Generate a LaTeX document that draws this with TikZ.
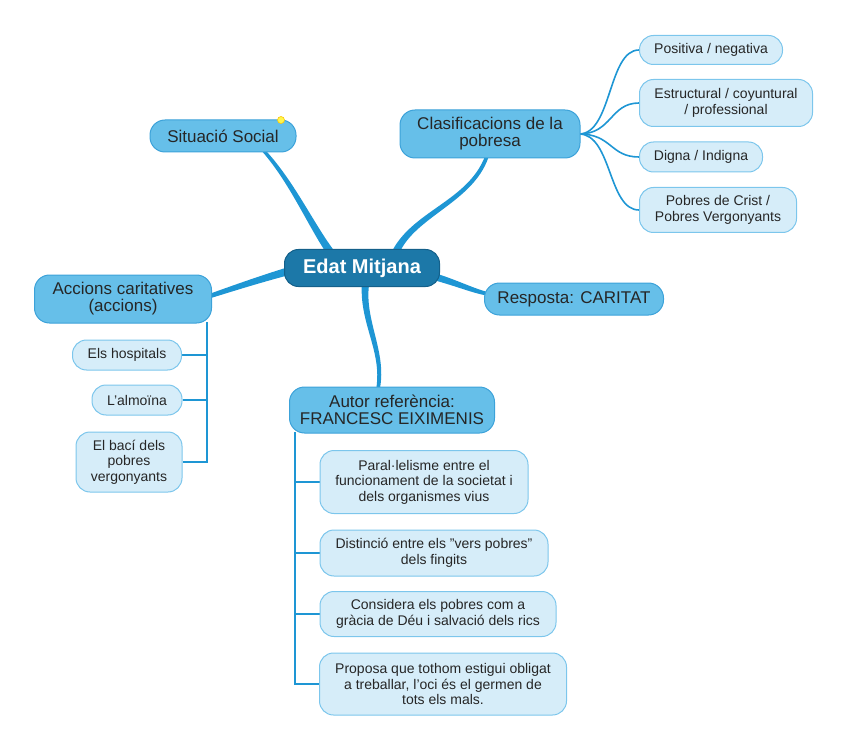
\documentclass[tikz,border=0pt]{standalone}
\usepackage{fontspec}
\setmainfont{Liberation Sans}
\usetikzlibrary{calc}
\pgfdeclarelayer{background}
\pgfsetlayers{background,main}
\definecolor{branch}{HTML}{1E96D4}
\definecolor{centerfill}{HTML}{1C78A8}
\definecolor{centerdraw}{HTML}{14608A}
\definecolor{mainfill}{HTML}{66BFE9}
\definecolor{maindraw}{HTML}{3CA2D9}
\definecolor{subfill}{HTML}{D6EDF9}
\definecolor{subdraw}{HTML}{7CC6EC}
\newcommand\sq{\char"0027\relax}
\newcommand\dq{\char"0022\relax}
\tikzset{
  centerbox/.style={draw=centerdraw, line width=1pt, fill=centerfill, rounded corners=14pt,
    text=white, font=\fontsize{20}{22}\selectfont\bfseries, inner sep=0pt},
  mainbox/.style={draw=maindraw, line width=1pt, fill=mainfill, rounded corners=15pt,
    text=black!85, font=\fontsize{17}{17}\selectfont, align=center, inner sep=0pt},
  subbox/.style={draw=subdraw, line width=1pt, fill=subfill, rounded corners=14pt,
    text=black!85, font=\fontsize{14}{15.5}\selectfont, align=center, inner sep=0pt},
  thin branch/.style={draw=branch, line width=1.6pt},
  tree line/.style={draw=branch, line width=2.2pt},
}
% tapered branch: #1 start, #2 control 1, #3 control 2, #4 end, #5 half width at start, #6 half width at end
\newcommand\taperbranch[6]{%
  \fill[branch]
    ($(#1)!#5!90:(#2)$)
    .. controls ($(#2)!{0.65*#5+0.35*#6}!90:(#3)$) and ($(#3)!{0.35*#5+0.65*#6}!90:(#4)$) ..
    ($(#4)!#6!-90:(#3)$)
    -- ($(#4)!#6!90:(#3)$)
    .. controls ($(#3)!{0.35*#5+0.65*#6}!-90:(#4)$) and ($(#2)!{0.65*#5+0.35*#6}!-90:(#3)$) ..
    ($(#1)!#5!-90:(#2)$) -- cycle;
}
\begin{document}
\begin{tikzpicture}[x=1pt,y=-1pt]
\useasboundingbox (0,0) rectangle (848,751);

% nodes
\node[centerbox, minimum width=155pt, minimum height=37pt] (c) at (362,268) {Edat Mitjana};
\node[mainbox, minimum width=146pt, minimum height=32pt] (sit) at (223,136) {Situació Social};
\node[mainbox, minimum width=180pt, minimum height=48pt] (cla) at (490,134) {Clasificacions de la\\pobresa};
\node[mainbox, minimum width=179pt, minimum height=32pt] (res) at (574,299) {Resposta: CARITAT};
\node[mainbox, minimum width=177pt, minimum height=48pt] (acc) at (123,299) {Accions caritatives\\(accions)};
\node[mainbox, minimum width=205pt, minimum height=46pt] (aut) at (392,410) {Autor referència:\\FRANCESC EIXIMENIS};

\node[subbox, minimum width=143pt, minimum height=29pt] (pos) at (711,50) {Positiva / negativa};
\node[subbox, minimum width=173pt, minimum height=47pt] (est) at (726,103) {Estructural / coyuntural\\/ professional};
\node[subbox, minimum width=123pt, minimum height=30pt] (dig) at (701,157) {Digna / Indigna};
\node[subbox, minimum width=157pt, minimum height=45pt] (crist) at (718,210) {Pobres de Crist /\\Pobres Vergonyants};

\node[subbox, minimum width=109pt, minimum height=30pt] (hos) at (127,355) {Els hospitals};
\node[subbox, minimum width=90pt, minimum height=30pt] (alm) at (137,400) {L\sq almoïna};
\node[subbox, minimum width=106pt, minimum height=60pt] (bac) at (129,462) {El bací dels\\pobres\\vergonyants};

\node[subbox, minimum width=208pt, minimum height=63pt] (par) at (424,482) {Paral·lelisme entre el\\funcionament de la societat i\\dels organismes vius};
\node[subbox, minimum width=228pt, minimum height=46pt] (dis) at (434,553) {Distinció entre els \dq vers pobres\dq\\dels fingits};
\node[subbox, minimum width=236pt, minimum height=45pt] (con) at (438,614) {Considera els pobres com a\\gràcia de Déu i salvació dels rics};
\node[subbox, minimum width=247pt, minimum height=62pt] (pro) at (443,684) {Proposa que tothom estigui obligat\\a treballar, l\sq oci és el germen de\\tots els mals.};

% small yellow marker
\node[circle, fill=yellow!70!white, draw=yellow!60!orange, line width=0.6pt, minimum size=7pt, inner sep=0pt] (dot) at (281,120) {};

% coordinates for branch ends
\coordinate (cSit) at (338,262);
\coordinate (cCla) at (392,262);
\coordinate (cAcc) at (300,268);
\coordinate (cRes) at (425,274);
\coordinate (cAut) at (366,280);
\coordinate (sitB) at (263,150);
\coordinate (claB) at (487,156);
\coordinate (accR) at (210,296);
\coordinate (resL) at (488,294);
\coordinate (autT) at (378,389);
\coordinate (sitC1) at (295,185);
\coordinate (sitC2) at (315,235);
\coordinate (claC1) at (470,205);
\coordinate (claC2) at (405,215);
\coordinate (accC1) at (240,286);
\coordinate (accC2) at (270,276);
\coordinate (resC1) at (455,282);
\coordinate (resC2) at (470,290);
\coordinate (autC1) at (360,320);
\coordinate (autC2) at (385,350);
\coordinate (claR) at (579,134);
\coordinate (accT) at (207,322);
\coordinate (autL) at (295,432);

\begin{pgfonlayer}{background}
% thick tapered branches
\taperbranch{cSit}{sitC2}{sitC1}{sitB}{4.2pt}{1.6pt}
\taperbranch{cCla}{claC2}{claC1}{claB}{4.2pt}{1.8pt}
\taperbranch{cAcc}{accC2}{accC1}{accR}{4.2pt}{2.2pt}
\taperbranch{cRes}{resC1}{resC2}{resL}{3.8pt}{1.8pt}
\taperbranch{cAut}{autC1}{autC2}{autT}{3.8pt}{1.8pt}

% thin branches from Clasificacions
\draw[thin branch] (claR) .. controls (612,134) and (608,50) .. (pos.west);
\draw[thin branch] (claR) .. controls (612,134) and (610,103) .. (est.west);
\draw[thin branch] (claR) .. controls (612,134) and (610,157) .. (dig.west);
\draw[thin branch] (claR) .. controls (612,134) and (608,210) .. (crist.west);

% tree lines
\draw[tree line] (accT) -- (207,462) -- (bac.east);
\draw[tree line] (hos.east) -- (207,355);
\draw[tree line] (alm.east) -- (207,400);

\draw[tree line] (autL) -- (295,684) -- (pro.west);
\draw[tree line] (par.west) -- (295,482);
\draw[tree line] (dis.west) -- (295,553);
\draw[tree line] (con.west) -- (295,614);
\end{pgfonlayer}
\end{tikzpicture}
\end{document}
